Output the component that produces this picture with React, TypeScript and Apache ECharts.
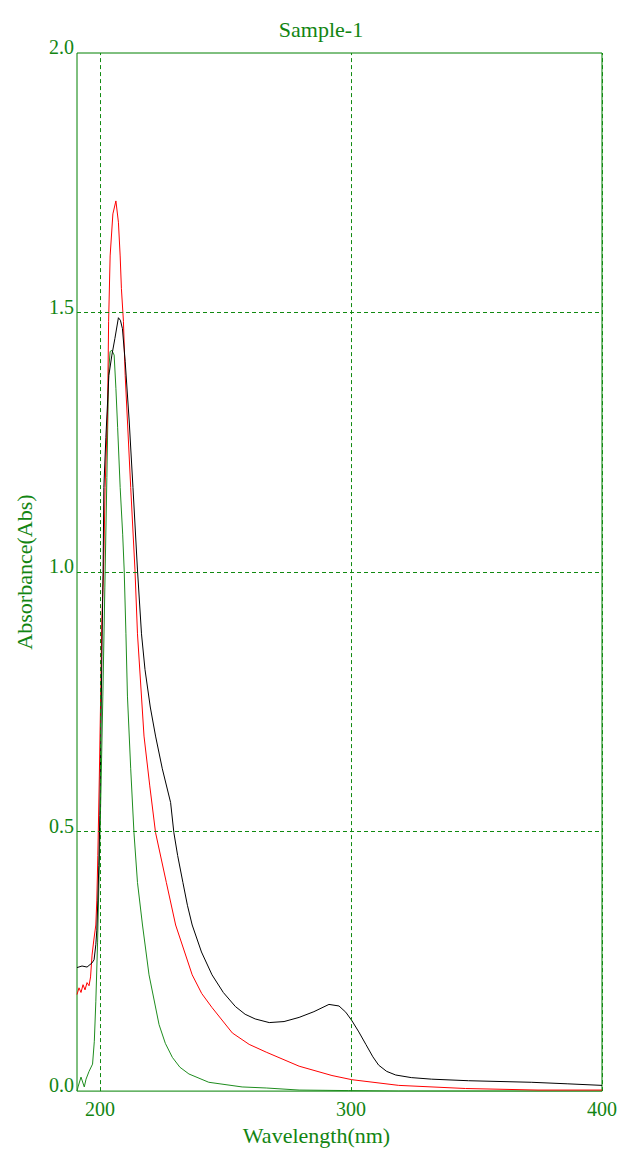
import React, { useEffect, useRef } from "react";
import * as echarts from "echarts";

const titleText = "Sample-1";
const xName = "Wavelength(nm)";
const yName = "Absorbance(Abs)";
const xTicks = [200, 300, 400];
const yTicks = [0, 0.5, 1.0, 1.5, 2.0];
const gridX = [200, 300, 400];
const gridY = [0.5, 1.0, 1.5];

const blackX = [190.8, 192.8, 194.8, 196.8, 197.6, 198.3, 198.7, 199.1, 199.5, 199.9, 200.3, 200.7, 201.2, 201.5, 202.3, 203.5, 204.7, 205.9, 207.3, 208.1, 208.9, 210.0, 211.6, 213.1, 214.9, 216.5, 217.9, 220.0, 222.1, 224.8, 228.1, 229.4, 230.9, 233.0, 234.8, 236.7, 240.4, 244.6, 249.1, 253.9, 257.8, 261.8, 267.4, 273.3, 279.3, 285.2, 291.2, 295.2, 297.9, 300.3, 303.1, 305.9, 308.7, 311.0, 314.2, 317.8, 324.0, 332.1, 346.8, 371.8, 386.4, 400];
const blackY = [0.238, 0.241, 0.239, 0.247, 0.253, 0.282, 0.310, 0.368, 0.435, 0.531, 0.684, 0.837, 1.004, 1.163, 1.259, 1.379, 1.418, 1.450, 1.490, 1.485, 1.469, 1.406, 1.291, 1.163, 1.004, 0.881, 0.812, 0.740, 0.684, 0.621, 0.556, 0.498, 0.454, 0.402, 0.358, 0.320, 0.268, 0.224, 0.190, 0.163, 0.148, 0.139, 0.132, 0.134, 0.142, 0.153, 0.167, 0.164, 0.152, 0.136, 0.114, 0.090, 0.066, 0.050, 0.038, 0.031, 0.026, 0.023, 0.020, 0.017, 0.014, 0.011];

const redX = [190.8, 191.6, 192.4, 193.2, 194.0, 194.8, 195.6, 196.2, 196.8, 197.5, 198.3, 198.7, 199.1, 199.7, 200.3, 200.7, 201.4, 202.0, 203.0, 203.4, 204.0, 205.1, 206.3, 207.3, 208.0, 208.5, 209.3, 210.0, 210.9, 212.2, 213.9, 214.9, 217.5, 219.8, 222.1, 226.4, 230.1, 236.7, 240.5, 244.6, 252.7, 259.4, 266.2, 279.3, 292.4, 300.3, 319.0, 345.6, 374.5, 400];
const redY = [0.186, 0.199, 0.190, 0.205, 0.195, 0.209, 0.203, 0.220, 0.262, 0.291, 0.320, 0.368, 0.454, 0.607, 0.780, 0.908, 1.004, 1.163, 1.316, 1.483, 1.609, 1.690, 1.715, 1.674, 1.609, 1.546, 1.483, 1.379, 1.291, 1.163, 1.004, 0.881, 0.684, 0.588, 0.498, 0.402, 0.320, 0.224, 0.188, 0.161, 0.112, 0.090, 0.075, 0.048, 0.030, 0.022, 0.011, 0.005, 0.002, 0.002];

const greenX = [190.8, 191.2, 192.4, 193.7, 194.4, 195.6, 197.0, 197.7, 198.3, 199.0, 199.6, 200.3, 201.1, 201.9, 202.7, 203.4, 204.0, 204.7, 205.6, 206.3, 207.0, 208.0, 209.0, 209.6, 210.3, 210.9, 212.2, 213.5, 214.9, 216.9, 219.5, 223.5, 226.0, 228.8, 231.8, 235.4, 243.3, 256.6, 266.2, 279.3, 299.1, 319.0, 400];
const greenY = [0.000, 0.008, 0.027, 0.008, 0.023, 0.038, 0.052, 0.096, 0.172, 0.287, 0.416, 0.569, 0.761, 0.971, 1.182, 1.387, 1.425, 1.427, 1.418, 1.354, 1.278, 1.163, 1.073, 1.004, 0.881, 0.761, 0.621, 0.498, 0.402, 0.320, 0.224, 0.128, 0.092, 0.065, 0.046, 0.033, 0.017, 0.008, 0.006, 0.002, 0.001, 0.000, 0.000];

const zip = (xs: number[], ys: number[]) => xs.map((x, i) => [x, ys[i]]);

const TEXT = "#128512";
const FRAME = "#008000";
const GRIDC = "#118a11";
const SERIF = "'Liberation Serif', 'DejaVu Serif', serif";

export default function App() {
  const ref = useRef<HTMLDivElement>(null);
  useEffect(() => {
    document.body.style.margin = "0";
    document.body.style.overflow = "hidden";
    document.documentElement.style.overflow = "hidden";
    const chart = echarts.init(ref.current!, null, { renderer: "svg" });
    const gl = { color: GRIDC, type: [4, 3], width: 1 };
    chart.setOption({
      animation: false,
      backgroundColor: "#ffffff",
      title: {
        text: titleText,
        left: 316,
        textAlign: "center",
        top: 13,
        textStyle: { fontFamily: SERIF, fontSize: 22, fontWeight: "normal", color: TEXT },
      },
      grid: {
        left: 77,
        right: 16,
        top: 53,
        bottom: 54,
        show: true,
        borderColor: FRAME,
        borderWidth: 1,
        containLabel: false,
      },
      xAxis: {
        type: "value",
        min: 190.8,
        max: 400,
        name: xName,
        nameLocation: "middle",
        nameGap: 29,
        nameTextStyle: { fontFamily: SERIF, fontSize: 22, color: TEXT, padding: [0, 46, 0, 0] },
        axisLine: { show: false },
        axisTick: { show: false },
        splitLine: { show: false },
        axisLabel: {
          customValues: xTicks,
          fontFamily: SERIF,
          fontSize: 20,
          color: TEXT,
          margin: 8,
        },
      },
      yAxis: {
        type: "value",
        min: 0,
        max: 2,
        name: yName,
        nameLocation: "middle",
        nameGap: 42,
        nameRotate: 90,
        nameTextStyle: { fontFamily: SERIF, fontSize: 22, color: TEXT },
        axisLine: { show: false },
        axisTick: { show: false },
        splitLine: { show: false },
        axisLabel: {
          customValues: yTicks,
          formatter: (v: number) => v.toFixed(1),
          fontFamily: SERIF,
          fontSize: 20,
          color: TEXT,
          margin: 3,
          verticalAlign: "bottom",
          lineHeight: 12,
        },
      },
      series: [
        {
          type: "line",
          name: "grid",
          data: [],
          silent: true,
          z: 1,
          itemStyle: { color: GRIDC },
          markLine: {
            silent: true,
            symbol: "none",
            label: { show: false },
            lineStyle: gl,
            data: [
              ...gridX.map((v) => ({ xAxis: v, lineStyle: gl })),
              ...gridY.map((v) => ({ yAxis: v, lineStyle: gl })),
            ],
          },
        },
        {
          type: "line",
          name: "Green",
          data: zip(greenX, greenY),
          showSymbol: false,
          lineStyle: { color: "#1e8c1e", width: 1 },
          z: 2,
        },
        {
          type: "line",
          name: "Red",
          data: zip(redX, redY),
          showSymbol: false,
          lineStyle: { color: "#ff0000", width: 1 },
          z: 3,
        },
        {
          type: "line",
          name: "Black",
          data: zip(blackX, blackY),
          showSymbol: false,
          lineStyle: { color: "#000000", width: 1 },
          z: 4,
        },
      ],
    });
    return () => chart.dispose();
  }, []);
  return (
    <div
      ref={ref}
      style={{ position: "fixed", left: 0, top: 0, width: 620, height: 1151 }}
    />
  );
}
